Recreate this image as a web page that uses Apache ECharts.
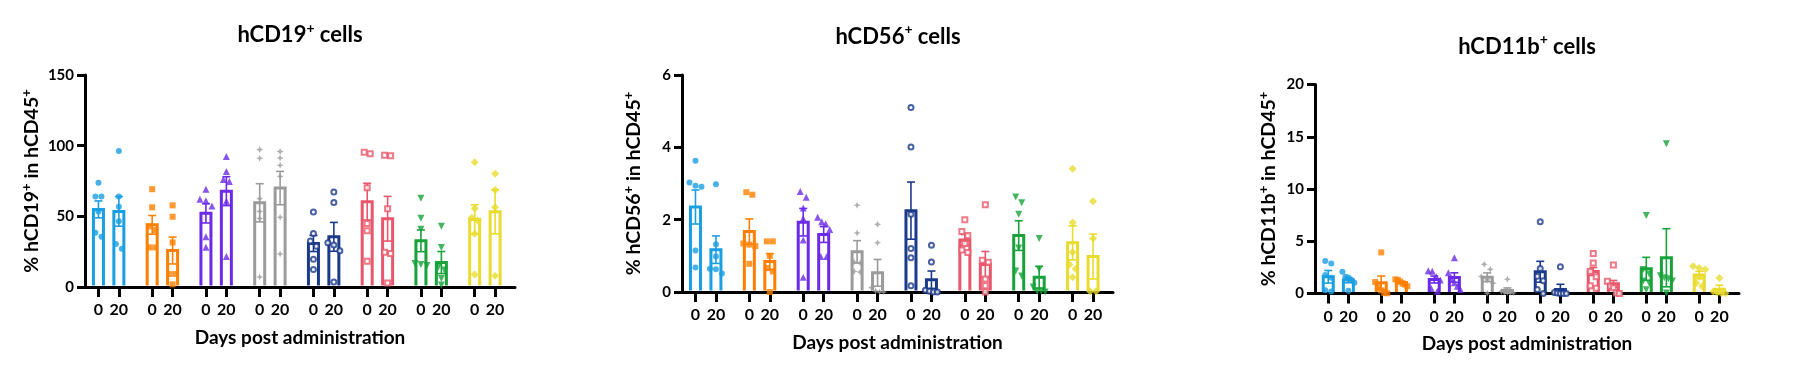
<!DOCTYPE html>
<html><head><meta charset="utf-8">
<script src="https://cdn.jsdelivr.net/npm/echarts@6/dist/echarts.min.js"></script>
<style>html,body{margin:0;padding:0;background:#fff}#c{width:1793px;height:372px}</style>
</head><body><div id="c"></div>
<script>
// ---------- data ----------
const groupColors = ['#1a9fe2','#ff8000','#6c2ae8','#9b9b9b','#1b3a8a','#e8576c','#17a23a','#e9dc2e'];
const dayLabels = ['0', '20'];
const panelTitles = ['hCD19', 'hCD56', 'hCD11b'];
const yTickMax = [150, 6, 20];
const yTickStep = [50, 2, 5];

// hCD19+ (% of hCD45+)
const cd19Mean0 = [54.9, 44.0, 52.1, 59.6, 30.8, 60.4, 32.7, 47.8];
const cd19Sem0  = [6.0, 6.6, 6.8, 13.5, 5.7, 13.0, 7.7, 10.3];
const cd19Mean20 = [53.5, 25.8, 67.8, 70.0, 35.5, 48.3, 17.3, 53.2];
const cd19Sem20  = [10.5, 9.5, 10.2, 11.8, 10.2, 15.8, 7.8, 15.6];
const cd19Pts0 = [
  [73.8, 64.1, 64.1, 53.5, 38.3, 35.5],
  [69.2, 56.4, 42.9, 40.3, 28.0, 28.0],
  [69.2, 62.1, 61.1, 57.3, 35.5, 28.2],
  [97.2, 91.1, 62.5, 53.5, 48.5, 7.1],
  [53.1, 37.9, 32.5, 28.9, 19.7, 12.3],
  [95.4, 94.2, 70.3, 45.0, 39.8, 18.3],
  [62.8, 48.6, 40.8, 16.6, 15.9, 15.2],
  [88.2, 55.6, 49.0, 47.1, 37.6, 8.8]
];
const cd19Pts20 = [
  [96.3, 64.1, 56.8, 46.6, 30.5, 27.0],
  [57.8, 49.7, 31.5, 9.2, 9.2, 1.9],
  [92.3, 81.7, 76.0, 74.6, 60.6, 21.6],
  [95.8, 91.3, 86.1, 78.3, 49.4, 23.4],
  [67.3, 59.7, 31.3, 29.8, 25.6, 3.6],
  [93.3, 92.8, 55.4, 24.6, 23.7, 2.8],
  [43.0, 28.0, 14.0, 12.0, 6.0, 1.5],
  [80.2, 68.6, 56.5, 8.0]
];

// hCD56+ (% of hCD45+)
const cd56Mean0 = [2.35, 1.67, 1.93, 1.11, 2.25, 1.44, 1.56, 1.36];
const cd56Sem0  = [0.47, 0.35, 0.38, 0.31, 0.79, 0.15, 0.41, 0.47];
const cd56Mean20 = [1.17, 0.84, 1.59, 0.53, 0.34, 0.76, 0.41, 0.98];
const cd56Sem20  = [0.38, 0.22, 0.22, 0.37, 0.24, 0.36, 0.30, 0.62];
const cd56Pts0 = [
  [3.63, 3.03, 2.94, 2.91, 1.15, 0.68],
  [2.76, 2.69, 1.34, 1.31, 1.27, 0.78],
  [2.78, 2.62, 2.32, 2.03, 1.44, 0.41],
  [2.40, 1.63, 0.83, 0.80, 0.57, 0.55],
  [5.10, 4.01, 2.15, 1.20, 0.95, 0.17],
  [2.00, 1.67, 1.56, 1.34, 1.16, 1.09],
  [2.63, 2.47, 2.15, 1.22, 0.58, 0.44],
  [3.41, 1.92, 1.10, 0.76, 0.64, 0.41]
];
const cd56Pts20 = [
  [2.98, 1.32, 0.98, 0.64, 0.63, 0.51],
  [1.40, 1.40, 1.00, 0.66, 0.57, 0.00],
  [2.07, 1.94, 1.89, 1.73, 0.98, 0.98],
  [1.87, 1.36, 0.12, 0.03, 0.00, 0.00],
  [1.29, 0.83, 0.05, 0.02, 0.00, 0.00],
  [2.41, 0.88, 0.82, 0.36, 0.17, 0.00],
  [1.48, 0.63, 0.14, 0.02, 0.02, 0.00],
  [2.51, 1.48, 0.02, 0.02]
];

// hCD11b+ (% of hCD45+)
const cd11bMean0 = [1.60, 1.02, 1.34, 1.55, 2.08, 2.11, 2.36, 1.77];
const cd11bSem0  = [0.60, 0.65, 0.33, 0.42, 1.00, 0.38, 1.10, 0.35];
const cd11bMean20 = [1.28, 1.05, 1.53, 0.28, 0.38, 0.93, 3.42, 0.41];
const cd11bSem20  = [0.25, 0.12, 0.45, 0.25, 0.50, 0.32, 2.78, 0.38];
const cd11bPts0 = [
  [3.10, 2.88, 1.77, 1.50, 0.30, 0.20],
  [3.93, 1.10, 0.70, 0.30, 0.05, 0.02],
  [2.17, 2.14, 1.60, 1.28, 0.48, 0.22],
  [2.79, 2.31, 1.62, 1.30, 0.98, 0.03],
  [6.87, 2.40, 1.66, 1.21, 0.38, 0.00],
  [3.82, 2.92, 2.10, 1.60, 0.75, 0.50],
  [7.46, 2.30, 1.87, 1.20, 0.98, 0.35],
  [2.60, 2.45, 2.30, 1.60, 1.00, 0.70]
];
const cd11bPts20 = [
  [2.08, 1.60, 1.53, 1.28, 1.02, 0.26],
  [1.35, 1.30, 1.15, 0.95, 0.85, 0.70],
  [3.42, 1.98, 1.44, 1.02, 0.70, 0.38],
  [1.36, 0.20, 0.15, 0.10, 0.10, 0.05],
  [2.56, 0.10, 0.05, 0.00, 0.00, 0.00],
  [2.72, 1.18, 0.70, 0.55, 0.05, 0.00],
  [14.34, 1.70, 1.50, 1.40, 1.20, 0.05],
  [1.49, 0.19, 0.10, 0.03, 0.03]
];

// ---------- layout & style ----------
const FONT = 'Lato, "Noto Sans", sans-serif';
const layouts = [
  {left: 85,   top: 75,   width: 430, height: 212, titleX: 300,  titleTop: 21, yGap: 41},
  {left: 682,  top: 75,   width: 431, height: 217, titleX: 898,  titleTop: 22.7, yGap: 36},
  {left: 1315, top: 84.5, width: 424, height: 209, titleX: 1527, titleTop: 32.7, yGap: 34}
];
const PAIR_CENTER = 0.44, DAY_HALF = 0.19;
const dayPos = (g, d) => g + PAIR_CENTER + (d === 0 ? -DAY_HALF : DAY_HALF);

function markerStyle(g) {
  const c = groupColors[g];
  switch (g) {
    case 0: return {symbol: 'circle', symbolSize: 6, itemStyle: {color: c}};
    case 1: return {symbol: 'rect', symbolSize: 6, itemStyle: {color: c}};
    case 2: return {symbol: 'triangle', symbolSize: 7, itemStyle: {color: c}};
    case 3: return {symbol: 'path://M0,-10 L3,-3 L10,0 L3,3 L0,10 L-3,3 L-10,0 L-3,-3 Z', symbolSize: 7, itemStyle: {color: c}};
    case 4: return {symbol: 'circle', symbolSize: 5, itemStyle: {color: '#fff', borderColor: c, borderWidth: 2}};
    case 5: return {symbol: 'rect', symbolSize: 5, itemStyle: {color: '#fff', borderColor: c, borderWidth: 2}};
    case 6: return {symbol: 'triangle', symbolSize: 7, symbolRotate: 180, itemStyle: {color: c}};
    default: return {symbol: 'diamond', symbolSize: 8, itemStyle: {color: c}};
  }
}

// GraphPad-like horizontal spread of overlapping points (pixels)
function swarmOffsets(vals, unitPx, diam, maxSpread) {
  const idx = vals.map((v, i) => i).sort((a, b) => vals[b] - vals[a]);
  const off = new Array(vals.length).fill(0);
  let cluster = [idx[0]];
  const flush = () => {
    const n = cluster.length;
    const step = n > 1 ? Math.min(diam, maxSpread / (n - 1)) : 0;
    cluster.forEach((k, j) => { off[k] = (j - (n - 1) / 2) * step; });
  };
  for (let j = 1; j < idx.length; j++) {
    const a = idx[j - 1], b = idx[j];
    if ((vals[a] - vals[b]) * unitPx < diam) cluster.push(b);
    else { flush(); cluster = [b]; }
  }
  flush();
  return off;
}

const panelData = [
  {mean: [cd19Mean0, cd19Mean20], sem: [cd19Sem0, cd19Sem20], pts: [cd19Pts0, cd19Pts20]},
  {mean: [cd56Mean0, cd56Mean20], sem: [cd56Sem0, cd56Sem20], pts: [cd56Pts0, cd56Pts20]},
  {mean: [cd11bMean0, cd11bMean20], sem: [cd11bSem0, cd11bSem20], pts: [cd11bPts0, cd11bPts20]}
];

const sup = {fontSize: 13, fontWeight: 'bold', fontFamily: FONT, color: '#000', verticalAlign: 'top', lineHeight: 13};
const option = {
  backgroundColor: '#fff',
  animation: false,
  title: [], grid: [], xAxis: [], yAxis: [], series: []
};

panelData.forEach((pd, p) => {
  const L = layouts[p];
  option.grid.push({left: L.left, top: L.top, width: L.width, height: L.height, containLabel: false});
  option.title.push({
    text: '{a|' + panelTitles[p] + '}{s|+}{a| cells}',
    left: L.titleX, top: L.titleTop, textAlign: 'center', padding: 0,
    textStyle: {rich: {
      a: {fontSize: 22, fontWeight: 'bold', fontFamily: FONT, color: '#000', lineHeight: 28},
      s: Object.assign({}, sup, {fontSize: 14, lineHeight: 14})
    }}
  });
  const tickVals = [];
  for (let g = 0; g < 8; g++) { tickVals.push(dayPos(g, 0), dayPos(g, 1)); }
  option.xAxis.push({
    type: 'value', gridIndex: p, min: 0, max: 8, position: 'bottom',
    name: 'Days post administration', nameLocation: 'middle', nameGap: 41,
    nameTextStyle: {fontSize: 19, fontWeight: 'bold', fontFamily: FONT, color: '#000'},
    axisLine: {show: true, onZero: false, lineStyle: {color: '#000', width: 3}},
    axisTick: {show: true, customValues: tickVals, length: 10, lineStyle: {color: '#000', width: 3}},
    axisLabel: {show: true, customValues: tickVals, margin: 15, fontSize: 16, fontWeight: 'bold', fontFamily: FONT, color: '#000',
      formatter: v => { const f = v - Math.floor(v); return f < PAIR_CENTER ? dayLabels[0] : dayLabels[1]; }},
    splitLine: {show: false}
  });
  option.yAxis.push({
    type: 'value', gridIndex: p, min: 0, max: yTickMax[p], interval: yTickStep[p],
    name: '{t|% ' + panelTitles[p] + '}{s|+}{t| in hCD45}{s|+}',
    nameLocation: 'middle', nameGap: L.yGap,
    nameTextStyle: {rich: {
      t: {fontSize: 19.5, fontWeight: 'bold', fontFamily: FONT, color: '#000', lineHeight: 24},
      s: sup
    }},
    axisLine: {show: true, lineStyle: {color: '#000', width: 3}},
    axisTick: {show: true, length: 8, lineStyle: {color: '#000', width: 3}},
    axisLabel: {margin: 11, fontSize: 15, fontWeight: 'bold', fontFamily: FONT, color: '#000'},
    splitLine: {show: false}
  });

  // bars + SEM
  const barData = [];
  for (let d = 0; d < 2; d++) for (let g = 0; g < 8; g++) {
    barData.push([dayPos(g, d), pd.mean[d][g], pd.sem[d][g], g]);
  }
  option.series.push({
    type: 'custom', xAxisIndex: p, yAxisIndex: p, z: 2, clip: false,
    encode: {x: 0, y: 1},
    data: barData,
    renderItem: (params, api) => {
      const x = api.value(0), m = api.value(1), s = api.value(2), g = api.value(3);
      const c = groupColors[g];
      const top = api.coord([x, m]), base = api.coord([x, 0]);
      const hi = api.coord([x, m + s]), lo = api.coord([x, Math.max(0, m - s)]);
      const hw = 5, cap = 4, cx = top[0];
      return {type: 'group', children: [
        {type: 'polyline', shape: {points: [[cx - hw, base[1] - 1.5], [cx - hw, top[1]], [cx + hw, top[1]], [cx + hw, base[1] - 1.5]]},
          style: {stroke: c, lineWidth: 3, fill: null}},
        {type: 'line', shape: {x1: cx, y1: hi[1], x2: cx, y2: lo[1]}, style: {stroke: c, lineWidth: 1.6}},
        {type: 'line', shape: {x1: cx - cap, y1: hi[1], x2: cx + cap, y2: hi[1]}, style: {stroke: c, lineWidth: 1.6}},
        {type: 'line', shape: {x1: cx - cap, y1: lo[1], x2: cx + cap, y2: lo[1]}, style: {stroke: c, lineWidth: 1.6}}
      ]};
    }
  });

  // individual points
  const unitPxY = L.height / yTickMax[p];
  const pxPerX = L.width / 8;
  const ptData = [];
  for (let d = 0; d < 2; d++) for (let g = 0; g < 8; g++) {
    const vals = pd.pts[d][g];
    const off = swarmOffsets(vals, unitPxY, 6, 12);
    vals.forEach((v, i) => {
      ptData.push(Object.assign({value: [dayPos(g, d) + off[i] / pxPerX, v]}, markerStyle(g)));
    });
  }
  option.series.push({
    type: 'scatter', xAxisIndex: p, yAxisIndex: p, z: 3, clip: false,
    data: ptData
  });
});

const chart = echarts.init(document.getElementById('c'), null, {renderer: 'canvas'});
chart.setOption(option);
</script>
</body></html>
